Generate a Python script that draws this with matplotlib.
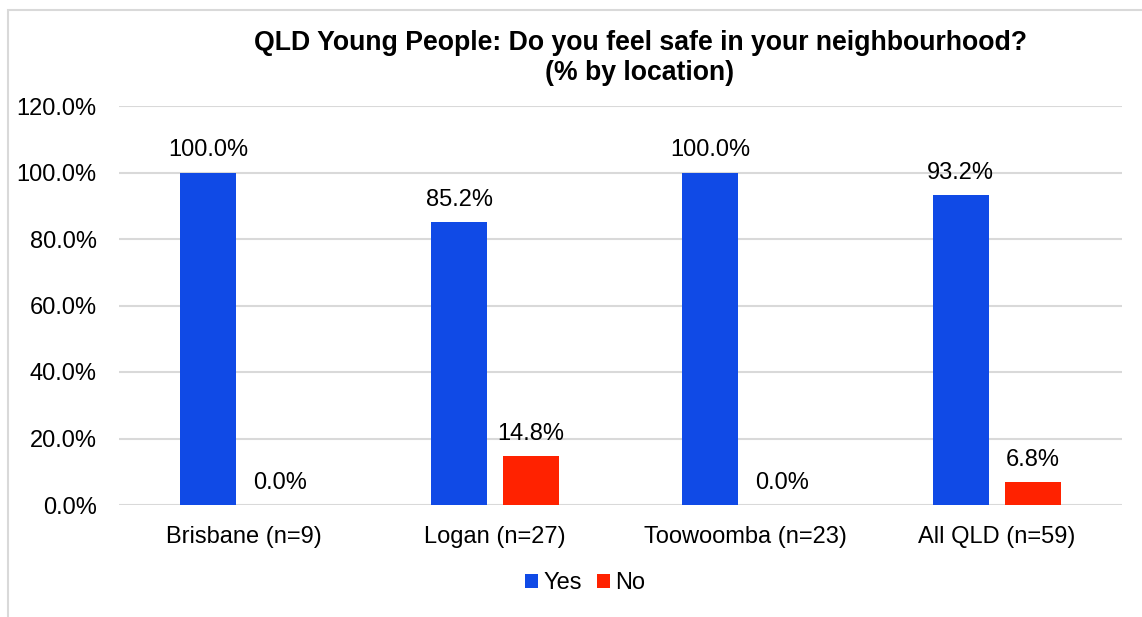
import matplotlib
matplotlib.use("Agg")
import matplotlib.pyplot as plt
import numpy as np
from matplotlib.patches import Rectangle
from matplotlib.ticker import FuncFormatter

categories = ["Brisbane (n=9)", "Logan (n=27)", "Toowoomba (n=23)", "All QLD (n=59)"]
yes_vals = [100.0, 85.2, 100.0, 93.2]
no_vals = [0.0, 14.8, 0.0, 6.8]
series_names = ["Yes", "No"]
title_text = "QLD Young People: Do you feel safe in your neighbourhood?\n(% by location)"

plt.rcParams['font.family'] = ['Liberation Sans', 'DejaVu Sans']

W, H = 1142, 617
fig = plt.figure(figsize=(W / 100, H / 100), dpi=100)
ax = fig.add_axes([119 / W, 1 - 505 / H, (1122 - 119) / W, (505 - 106) / H])

blue = '#104AE6'
red = '#FF2200'
fs = 17
x = np.arange(len(categories))
bw = 0.223
off = 0.1436
b1 = ax.bar(x - off, yes_vals, bw, color=blue, label=series_names[0], zorder=3)
b2 = ax.bar(x + off, no_vals, bw, color=red, label=series_names[1], zorder=3)

for bars, vals in ((b1, yes_vals), (b2, no_vals)):
    for r, v in zip(bars, vals):
        ax.annotate(f"{v:.1f}%", (r.get_x() + r.get_width() / 2, r.get_height()),
                    xytext=(0, 8), textcoords='offset points', ha='center', va='bottom',
                    fontsize=fs, color='#000000')

ax.set_xlim(-0.5, len(categories) - 0.5)
ax.set_ylim(0, 120)
ax.set_yticks(np.arange(0, 121, 20))
ax.yaxis.set_major_formatter(FuncFormatter(lambda v, p: f"{v:.1f}%"))
ax.set_xticks(x)
ax.set_xticklabels(categories)
ax.tick_params(axis='both', length=0, labelsize=fs, colors='#000000')
ax.tick_params(axis='y', pad=16)
ax.tick_params(axis='x', pad=15)
ax.grid(axis='y', color='#D9D9D9', linewidth=1.5, zorder=0)
for s in ax.spines.values():
    s.set_visible(False)

fig.text(640 / W, 1 - 58 / H, title_text, ha='center', va='center', fontsize=19.2,
         fontweight='bold', linespacing=1.22)

leg = fig.legend(handles=[b1, b2], labels=series_names, loc='center',
                 bbox_to_anchor=(585 / W, 1 - 583 / H), ncol=2, frameon=False,
                 fontsize=fs, handlelength=0.55, handleheight=0.55, handletextpad=0.2,
                 columnspacing=0.65)

fig.patches.append(Rectangle((8 / W, -0.05), 1.1, 1 - 10 / H + 0.05, transform=fig.transFigure,
                             fill=False, edgecolor='#D9D9D9', linewidth=1.5))

fig.savefig("out.png", dpi=100)
